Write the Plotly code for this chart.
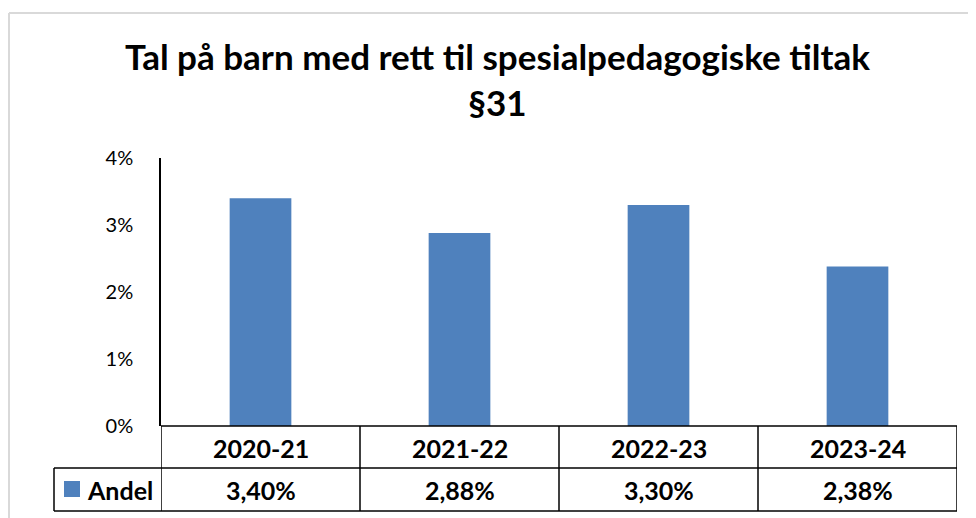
import plotly.graph_objects as go

categories = ["2020-21", "2021-22", "2022-23", "2023-24"]
values = [3.40, 2.88, 3.30, 2.38]
value_labels = ["3,40%", "2,88%", "3,30%", "2,38%"]
series_name = "Andel"
y_ticks = [0, 1, 2, 3, 4]
y_tick_labels = ["0%", "1%", "2%", "3%", "4%"]
title_text = "Tal på barn med rett til spesialpedagogiske tiltak<br>§31"

BAR = "#4F81BD"
FONT = "Lato"

fig = go.Figure()
fig.add_trace(go.Bar(x=list(range(len(categories))), y=values, marker_color=BAR,
                     marker_line_width=0, name=series_name, showlegend=False))

OFF = 8  # page body margin
W, H = 976 - OFF, 518 - OFF
SL, SR, ST, SB = 161, 957, 158, 426
L, T = SL - OFF, ST - OFF
R = W - (SR - OFF)
B = H - (SB - OFF)
pw, ph = SR - SL, SB - ST

def py(ypix):
    return (SB - ypix) / ph

def px(xpix):
    return (xpix - SL) / pw

shapes = []
line = dict(color="black", width=1.5)
for yy, x0 in [(426, 161), (468, 54), (511, 54)]:
    shapes.append(dict(type="line", xref="paper", yref="paper", x0=px(x0), x1=1,
                       y0=py(yy), y1=py(yy), line=line))
n = len(categories)
for i in range(n + 1):
    shapes.append(dict(type="line", xref="x", yref="paper", x0=i - 0.5, x1=i - 0.5,
                       y0=py(426), y1=py(511), line=line))
shapes.append(dict(type="line", xref="paper", yref="paper", x0=px(54), x1=px(54),
                   y0=py(468), y1=py(511), line=line))
shapes.append(dict(type="rect", xref="paper", yref="paper", x0=px(64), x1=px(80),
                   y0=py(497), y1=py(481), fillcolor=BAR, line=dict(width=0)))
shapes.append(dict(type="line", xref="paper", yref="paper", x0=px(9), x1=px(9),
                   y0=py(13), y1=py(530), line=dict(color="#d9d9d9", width=2)))
shapes.append(dict(type="line", xref="paper", yref="paper", x0=px(9), x1=px(990),
                   y0=py(13), y1=py(13), line=dict(color="#d9d9d9", width=2)))

tf = dict(family=FONT, size=25, color="black", weight="bold")
annotations = []
for i, c in enumerate(categories):
    annotations.append(dict(x=i, y=py(448), xref="x", yref="paper", text=c, showarrow=False,
                            font=tf, xanchor="center", yanchor="middle"))
    annotations.append(dict(x=i, y=py(490), xref="x", yref="paper", text=value_labels[i],
                            showarrow=False, font=tf, xanchor="center", yanchor="middle"))
annotations.append(dict(x=px(85), y=py(490), xref="paper", yref="paper", text=series_name,
                        showarrow=False, xanchor="left", yanchor="middle", font=tf))
annotations.append(dict(x=px(497), y=py(79), xref="paper", yref="paper",
                        text=title_text, showarrow=False, xanchor="center", yanchor="middle",
                        font=dict(family=FONT, size=35, color="black", weight="bold")))

fig.update_layout(
    width=W, height=H,
    margin=dict(l=L, r=R, t=T, b=B, autoexpand=False),
    paper_bgcolor="white", plot_bgcolor="white",
    bargap=0.69,
    showlegend=False,
    shapes=shapes, annotations=annotations,
    xaxis=dict(range=[-0.5, n - 0.5], showticklabels=False, showgrid=False,
               zeroline=False, showline=False, ticks=""),
    yaxis=dict(range=[0, 4], tickvals=y_ticks, ticktext=y_tick_labels, showgrid=False,
               zeroline=False, showline=True, linecolor="black", linewidth=1.5,
               ticks="", ticklabelstandoff=22,
               tickfont=dict(family=FONT, size=20, color="black")),
)

fig.write_html("out.html")
